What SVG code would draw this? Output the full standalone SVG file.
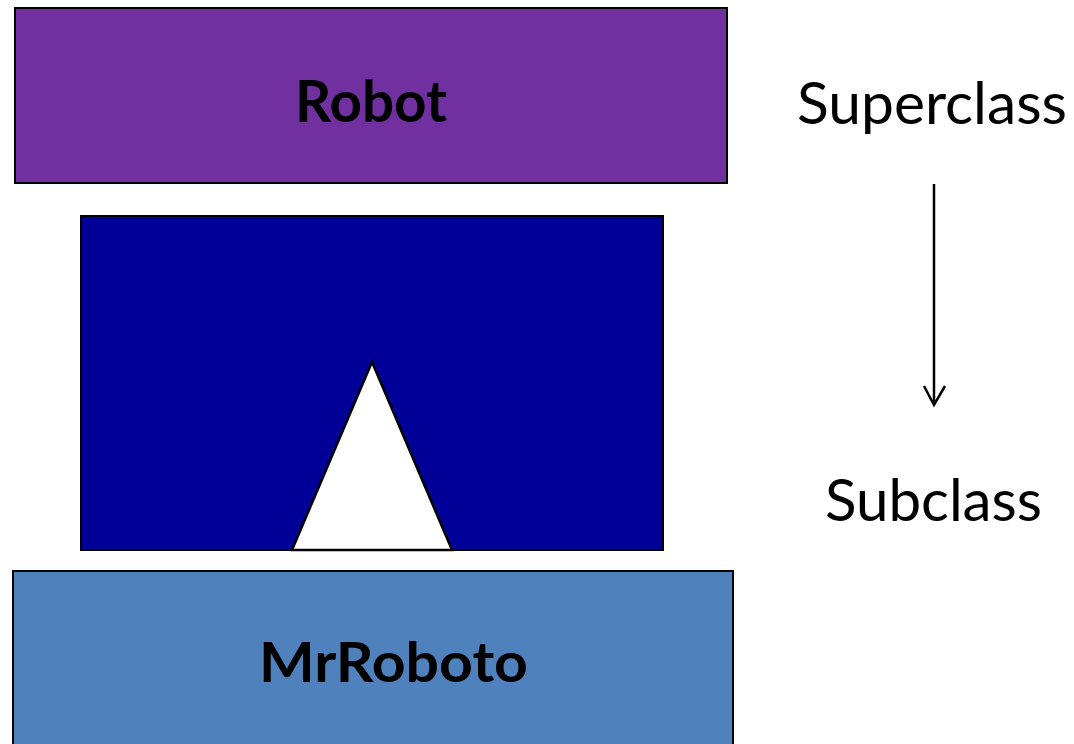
<svg xmlns="http://www.w3.org/2000/svg" width="1074" height="744" viewBox="0 0 1074 744">
  <style>
    .box { stroke: #000; stroke-width: 2; }
    .label { font-family: Lato, "Open Sans", "Liberation Sans", sans-serif; fill: #000; }
    .bold { font-weight: bold; }
    .conn { stroke: #000; stroke-width: 2.5; fill: none; }
  </style>
  <rect width="1074" height="744" fill="#fff"/>

  <!-- superclass -->
  <g id="robot">
    <rect class="box" x="15" y="8" width="712" height="175" fill="#7030A0"/>
    <text class="label bold" x="295" y="122" font-size="57" textLength="152" lengthAdjust="spacingAndGlyphs">Robot</text>
  </g>

  <!-- inheritance symbol -->
  <g id="inherits">
    <rect class="box" x="81" y="216" width="582" height="334" fill="#000099"/>
    <polygon points="372,362 292,550 452,550" fill="#fff" stroke="#000" stroke-width="2.5" stroke-linejoin="miter"/>
  </g>

  <!-- subclass -->
  <g id="mrroboto">
    <rect class="box" x="13" y="571" width="720" height="190" fill="#4F81BD"/>
    <text class="label bold" x="259" y="682" font-size="56" textLength="269" lengthAdjust="spacingAndGlyphs">MrRoboto</text>
  </g>

  <!-- legend -->
  <g id="superclass-label">
    <text class="label" x="797" y="124" font-size="59" textLength="270" lengthAdjust="spacingAndGlyphs">Superclass</text>
  </g>
  <g id="subclass-label">
    <text class="label" x="825" y="521" font-size="59" textLength="217" lengthAdjust="spacingAndGlyphs">Subclass</text>
  </g>

  <g id="connectors">
    <line class="conn" x1="934" y1="184" x2="934" y2="404"/>
    <polyline class="conn" points="924,386 934,405 945,386"/>
  </g>
</svg>
